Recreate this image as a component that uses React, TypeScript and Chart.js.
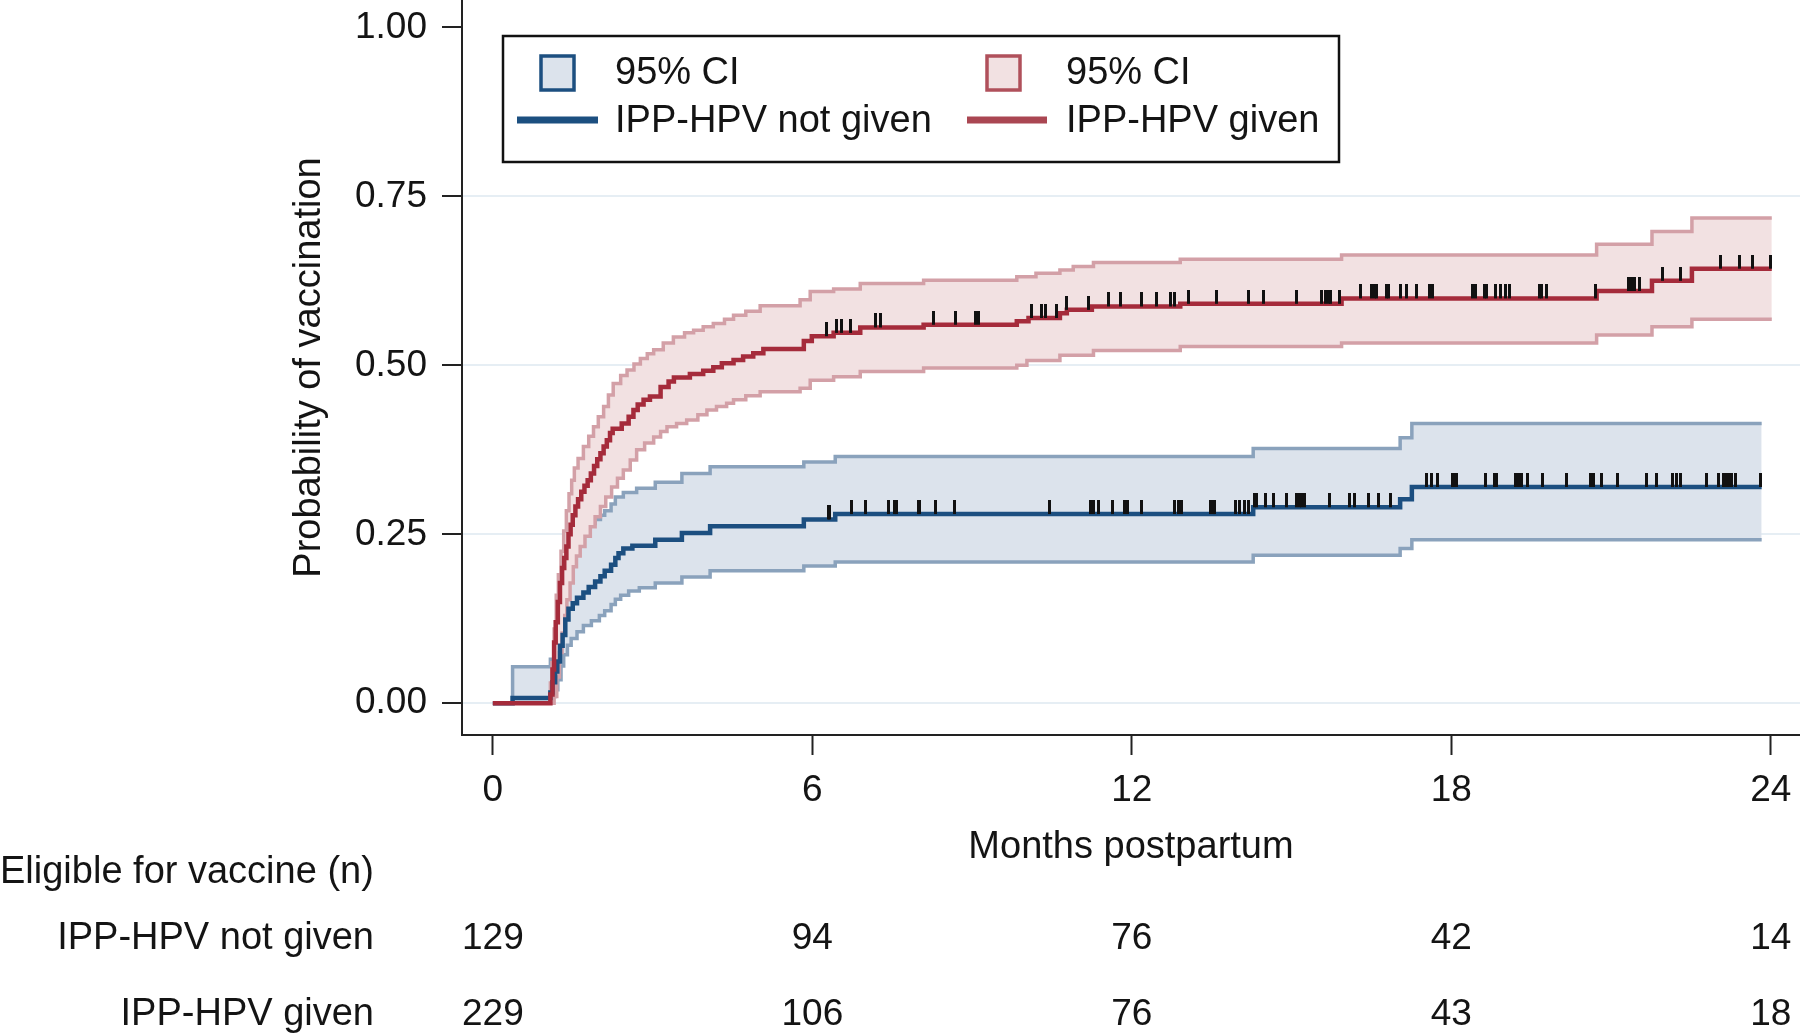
import React, { useEffect, useRef } from 'react';
import { Chart, registerables } from 'chart.js';

Chart.register(...registerables);

// ---- Data ----
const xTickValues = [0, 6, 12, 18, 24];
const yTickValues = [0, 0.25, 0.5, 0.75, 1];

// IPP-HPV not given (blue)
const notGivenEstT = [0, 0.37, 1.08, 1.12, 1.17, 1.21, 1.26, 1.31, 1.36, 1.42, 1.5, 1.58, 1.7, 1.8, 1.92, 2.02, 2.1, 2.22, 2.3, 2.36, 2.45, 2.62, 3.05, 3.55, 4.08, 5.84, 6.43, 14.28, 17.04, 17.26, 23.83];
const notGivenEstV = [0, 0.008, 0.016, 0.031, 0.047, 0.062, 0.085, 0.101, 0.124, 0.14, 0.148, 0.156, 0.164, 0.172, 0.18, 0.188, 0.196, 0.205, 0.215, 0.222, 0.229, 0.233, 0.242, 0.252, 0.262, 0.272, 0.28, 0.29, 0.302, 0.32, 0.32];
const notGivenLoT = [0, 1.12, 1.17, 1.22, 1.28, 1.33, 1.4, 1.47, 1.58, 1.7, 1.85, 2.0, 2.1, 2.22, 2.3, 2.4, 2.55, 2.75, 3.05, 3.55, 4.08, 5.84, 6.43, 14.28, 17.04, 17.26, 23.83];
const notGivenLoV = [0, 0.01, 0.02, 0.035, 0.055, 0.072, 0.086, 0.096, 0.106, 0.115, 0.122, 0.13, 0.137, 0.146, 0.154, 0.16, 0.166, 0.171, 0.178, 0.187, 0.196, 0.203, 0.209, 0.219, 0.229, 0.242, 0.242];
const notGivenHiT = [0, 0.37, 1.08, 1.15, 1.2, 1.26, 1.31, 1.36, 1.42, 1.5, 1.6, 1.7, 1.8, 1.92, 2.02, 2.1, 2.22, 2.3, 2.45, 2.7, 3.05, 3.55, 4.08, 5.84, 6.43, 14.28, 17.04, 17.26, 23.83];
const notGivenHiV = [0, 0.054, 0.065, 0.085, 0.12, 0.16, 0.19, 0.215, 0.235, 0.25, 0.256, 0.26, 0.266, 0.272, 0.278, 0.285, 0.295, 0.305, 0.312, 0.318, 0.327, 0.34, 0.35, 0.357, 0.365, 0.377, 0.393, 0.414, 0.414];
const notGivenCensored = [6.3, 6.33, 6.74, 6.99, 7.43, 7.54, 7.59, 7.99, 8.02, 8.32, 8.67, 10.45, 11.22, 11.28, 11.37, 11.64, 11.87, 11.92, 12.19, 12.81, 12.88, 12.94, 13.47, 13.53, 13.56, 13.94, 14.03, 14.11, 14.19, 14.3, 14.35, 14.52, 14.66, 14.9, 15.1, 15.15, 15.19, 15.24, 15.72, 16.09, 16.19, 16.44, 16.63, 16.85, 17.54, 17.62, 17.75, 18.02, 18.06, 18.1, 18.65, 18.82, 18.85, 19.2, 19.26, 19.32, 19.43, 19.72, 20.16, 20.61, 20.68, 20.83, 21.12, 21.66, 21.86, 22.16, 22.23, 22.31, 22.8, 23.02, 23.11, 23.17, 23.22, 23.27, 23.33, 23.8];

// IPP-HPV given (red)
const givenEstT = [0, 1.08, 1.12, 1.15, 1.18, 1.22, 1.26, 1.3, 1.34, 1.38, 1.42, 1.46, 1.5, 1.55, 1.6, 1.66, 1.72, 1.78, 1.84, 1.9, 1.96, 2.02, 2.08, 2.14, 2.2, 2.25, 2.42, 2.55, 2.64, 2.72, 2.83, 2.95, 3.15, 3.3, 3.4, 3.7, 3.95, 4.14, 4.3, 4.52, 4.7, 4.89, 5.08, 5.84, 5.99, 6.4, 6.9, 8.09, 9.84, 10.06, 10.65, 10.78, 11.25, 12.91, 15.94, 20.73, 21.77, 22.52, 24.02];
const givenEstV = [0, 0.013, 0.05, 0.09, 0.12, 0.15, 0.178, 0.2, 0.215, 0.232, 0.25, 0.264, 0.278, 0.291, 0.302, 0.313, 0.322, 0.33, 0.34, 0.351, 0.361, 0.37, 0.38, 0.389, 0.4, 0.406, 0.414, 0.424, 0.434, 0.442, 0.449, 0.454, 0.468, 0.476, 0.482, 0.487, 0.492, 0.497, 0.503, 0.508, 0.513, 0.518, 0.524, 0.536, 0.543, 0.548, 0.556, 0.56, 0.565, 0.57, 0.577, 0.582, 0.587, 0.591, 0.599, 0.61, 0.625, 0.643, 0.643];
const givenHiT = [0, 1.08, 1.11, 1.15, 1.19, 1.23, 1.28, 1.33, 1.38, 1.43, 1.48, 1.53, 1.6, 1.7, 1.8, 1.89, 1.98, 2.08, 2.17, 2.26, 2.4, 2.52, 2.65, 2.77, 2.9, 3.02, 3.2, 3.39, 3.6, 3.77, 3.95, 4.14, 4.35, 4.52, 4.75, 5.02, 5.77, 5.96, 6.4, 6.9, 8.09, 9.84, 10.2, 10.65, 10.9, 11.28, 12.91, 15.94, 20.73, 21.77, 22.52, 24.02];
const givenHiV = [0, 0.03, 0.06, 0.11, 0.16, 0.19, 0.225, 0.255, 0.285, 0.31, 0.33, 0.348, 0.362, 0.38, 0.395, 0.409, 0.424, 0.439, 0.456, 0.473, 0.485, 0.493, 0.502, 0.51, 0.517, 0.523, 0.533, 0.542, 0.548, 0.552, 0.557, 0.562, 0.568, 0.574, 0.58, 0.588, 0.597, 0.609, 0.613, 0.621, 0.626, 0.631, 0.636, 0.641, 0.646, 0.652, 0.657, 0.663, 0.679, 0.698, 0.718, 0.718];
const givenLoT = [0, 1.15, 1.2, 1.25, 1.3, 1.35, 1.39, 1.45, 1.51, 1.57, 1.64, 1.73, 1.83, 1.92, 2.02, 2.12, 2.23, 2.34, 2.45, 2.58, 2.7, 2.85, 3.02, 3.15, 3.27, 3.45, 3.64, 3.85, 4.02, 4.2, 4.39, 4.52, 4.75, 5.02, 5.77, 5.96, 6.4, 6.9, 8.09, 9.84, 10.03, 10.65, 11.28, 12.91, 15.94, 20.73, 21.77, 22.52, 24.02];
const givenLoV = [0, 0.01, 0.039, 0.075, 0.104, 0.13, 0.153, 0.178, 0.202, 0.218, 0.232, 0.247, 0.261, 0.276, 0.291, 0.305, 0.32, 0.333, 0.345, 0.36, 0.375, 0.385, 0.394, 0.402, 0.409, 0.414, 0.419, 0.427, 0.434, 0.439, 0.444, 0.449, 0.455, 0.461, 0.466, 0.478, 0.483, 0.491, 0.496, 0.5, 0.507, 0.515, 0.522, 0.528, 0.533, 0.545, 0.557, 0.568, 0.568];
const givenCensored = [6.26, 6.46, 6.55, 6.71, 7.18, 7.28, 8.28, 8.68, 9.06, 9.12, 10.12, 10.31, 10.37, 10.59, 10.78, 11.19, 11.56, 11.78, 12.19, 12.46, 12.73, 12.81, 13.06, 13.6, 14.19, 14.48, 15.09, 15.57, 15.63, 15.69, 15.74, 15.91, 16.29, 16.51, 16.55, 16.6, 16.78, 16.82, 17.04, 17.15, 17.35, 17.59, 17.65, 18.4, 18.45, 18.62, 18.67, 18.84, 18.92, 19.01, 19.1, 19.65, 19.7, 19.79, 20.7, 21.33, 21.39, 21.45, 21.53, 21.97, 22.3, 23.06, 23.42, 23.66, 24.0];

// Risk table
const riskTimes = [0, 6, 12, 18, 24];
const notGivenAtRisk = [129, 94, 76, 42, 14];
const givenAtRisk = [229, 106, 76, 43, 18];
const groupLabels = ['IPP-HPV not given', 'IPP-HPV given'];
const tableTitle = 'Eligible for vaccine (n)';
const legendLabels = ['95% CI', 'IPP-HPV not given', '95% CI', 'IPP-HPV given'];
const xTitle = 'Months postpartum';
const yTitle = 'Probability of vaccination';

// ---- Styles ----
const FONT = '"Liberation Sans", Arial, Helvetica, sans-serif';
const TEXT = '#141414';
const BLUE = '#1c4f80';
const BLUE_CI_LINE = '#8aa2bc';
const BLUE_FILL = '#dce3ec';
const RED = '#a52b3b';
const RED_CI_LINE = '#d3a0a7';
const RED_FILL = '#f2e1e2';

function toPoints(T: number[], V: number[]) {
  const n = Math.min(T.length, V.length);
  const out: { x: number; y: number }[] = [];
  for (let i = 0; i < n; i++) out.push({ x: T[i], y: V[i] });
  return out;
}

function stepValueAt(T: number[], V: number[], t: number) {
  let v = V[0];
  for (let i = 0; i < T.length; i++) {
    if (T[i] <= t) v = V[i];
    else break;
  }
  return v;
}

export default function App() {
  const ref = useRef<HTMLCanvasElement>(null);

  useEffect(() => {
    const canvas = ref.current;
    if (!canvas) return;

    const mark = document.createElement('canvas');
    mark.width = 3;
    mark.height = 28;
    const mctx = mark.getContext('2d');
    if (mctx) {
      mctx.fillStyle = '#111';
      mctx.fillRect(0, 0, 3, 14);
    }

    const overlay = {
      id: 'overlay',
      afterDraw(chart: any) {
        const ctx = chart.ctx as CanvasRenderingContext2D;
        const xs = chart.scales.x;
        ctx.save();
        ctx.fillStyle = TEXT;
        ctx.textBaseline = 'alphabetic';
        // risk table
        ctx.font = `38px ${FONT}`;
        ctx.textAlign = 'left';
        ctx.fillText(tableTitle, 0, 883);
        ctx.textAlign = 'right';
        ctx.fillText(groupLabels[0], 374, 949);
        ctx.fillText(groupLabels[1], 374, 1025);
        ctx.font = `37px ${FONT}`;
        ctx.textAlign = 'center';
        riskTimes.forEach((t, i) => {
          const x = xs.getPixelForValue(t);
          ctx.fillText(String(notGivenAtRisk[i]), x, 949);
          ctx.fillText(String(givenAtRisk[i]), x, 1025);
        });

        // legend
        ctx.fillStyle = '#ffffff';
        ctx.fillRect(503, 36, 836, 126);
        ctx.lineWidth = 2.5;
        ctx.strokeStyle = '#111';
        ctx.strokeRect(503, 36, 836, 126);

        ctx.lineWidth = 3.5;
        ctx.fillStyle = BLUE_FILL;
        ctx.fillRect(541, 56, 33, 34);
        ctx.strokeStyle = BLUE;
        ctx.strokeRect(541, 56, 33, 34);
        ctx.fillStyle = RED_FILL;
        ctx.fillRect(987, 56, 33, 34);
        ctx.strokeStyle = '#b0505b';
        ctx.strokeRect(987, 56, 33, 34);

        ctx.lineWidth = 7;
        ctx.lineCap = 'butt';
        ctx.strokeStyle = BLUE;
        ctx.beginPath();
        ctx.moveTo(517, 120);
        ctx.lineTo(598, 120);
        ctx.stroke();
        ctx.strokeStyle = '#aa4652';
        ctx.beginPath();
        ctx.moveTo(967, 120);
        ctx.lineTo(1047, 120);
        ctx.stroke();

        ctx.fillStyle = TEXT;
        ctx.font = `38px ${FONT}`;
        ctx.textAlign = 'left';
        ctx.fillText(legendLabels[0], 615, 84);
        ctx.fillText(legendLabels[1], 615, 132);
        ctx.fillText(legendLabels[2], 1066, 84);
        ctx.fillText(legendLabels[3], 1066, 132);
        ctx.restore();
      },
    };

    const notGivenCens = notGivenCensored.map((t) => ({ x: t, y: stepValueAt(notGivenEstT, notGivenEstV, t) }));
    const givenCens = givenCensored.map((t) => ({ x: t, y: stepValueAt(givenEstT, givenEstV, t) }));

    const lineBase = { pointRadius: 0, stepped: true as const, tension: 0 };

    const chart = new Chart(canvas, {
      type: 'line',
      data: {
        datasets: [
          { ...lineBase, label: 'notGivenHi', data: toPoints(notGivenHiT, notGivenHiV), borderColor: BLUE_CI_LINE, borderWidth: 3.5, backgroundColor: BLUE_FILL, fill: '+1', order: 8 },
          { ...lineBase, label: 'notGivenLo', data: toPoints(notGivenLoT, notGivenLoV), borderColor: BLUE_CI_LINE, borderWidth: 3.5, fill: false, order: 7 },
          { ...lineBase, label: 'givenHi', data: toPoints(givenHiT, givenHiV), borderColor: RED_CI_LINE, borderWidth: 3.5, backgroundColor: RED_FILL, fill: '+1', order: 6 },
          { ...lineBase, label: 'givenLo', data: toPoints(givenLoT, givenLoV), borderColor: RED_CI_LINE, borderWidth: 3.5, fill: false, order: 5 },
          { ...lineBase, label: 'IPP-HPV not given', data: toPoints(notGivenEstT, notGivenEstV), borderColor: BLUE, borderWidth: 4.5, fill: false, order: 4 },
          { ...lineBase, label: 'IPP-HPV given', data: toPoints(givenEstT, givenEstV), borderColor: RED, borderWidth: 4.5, fill: false, order: 3 },
          { type: 'scatter' as any, label: 'cens1', data: notGivenCens, pointStyle: mark as any, pointRadius: 6, showLine: false, order: 2 } as any,
          { type: 'scatter' as any, label: 'cens2', data: givenCens, pointStyle: mark as any, pointRadius: 6, showLine: false, order: 1 } as any,
        ],
      },
      options: {
        responsive: false,
        animation: false,
        devicePixelRatio: 1,
        layout: { padding: 0, autoPadding: false },
        plugins: { legend: { display: false }, tooltip: { enabled: false } },
        scales: {
          x: {
            type: 'linear',
            min: -0.58,
            max: 24.55,
            afterBuildTicks: (s: any) => {
              s.ticks = xTickValues.map((v) => ({ value: v }));
            },
            afterFit: (s: any) => {
              s.height = 301;
              s.paddingLeft = 0;
              s.paddingRight = 0;
              s.paddingTop = 0;
              s.paddingBottom = 0;
            },
            ticks: {
              font: { family: FONT, size: 37 },
              color: TEXT,
              padding: 14,
              maxRotation: 0,
              autoSkip: false,
              callback: (v: any) => String(v),
            },
            grid: { drawOnChartArea: false, drawTicks: true, tickLength: 20, tickColor: '#222', tickWidth: 2 },
            border: { display: true, color: '#222', width: 2 },
            title: {
              display: true,
              text: xTitle,
              color: TEXT,
              font: { family: FONT, size: 38, lineHeight: 1 },
              padding: { top: 0, bottom: 169 },
            },
          },
          y: {
            type: 'linear',
            min: -0.0469,
            max: 1.0404,
            afterBuildTicks: (s: any) => {
              s.ticks = yTickValues.map((v) => ({ value: v }));
            },
            afterFit: (s: any) => {
              s.width = 462;
              s.paddingLeft = 0;
              s.paddingRight = 0;
              s.paddingTop = 0;
              s.paddingBottom = 0;
            },
            ticks: {
              font: { family: FONT, size: 37 },
              color: TEXT,
              padding: 15,
              autoSkip: false,
              callback: (v: any) => Number(v).toFixed(2),
            },
            grid: {
              drawOnChartArea: true,
              color: (c: any) => (c.tick && c.tick.value === 1 ? 'rgba(0,0,0,0)' : '#e6eef4'),
              lineWidth: 2,
              drawTicks: true,
              tickLength: 20,
              tickColor: '#222',
              tickWidth: 2,
            },
            border: { display: true, color: '#222', width: 2 },
            title: {
              display: true,
              text: yTitle,
              color: TEXT,
              font: { family: FONT, size: 38, lineHeight: 1 },
              padding: { top: 291, bottom: 0 },
            },
          },
        },
      },
      plugins: [overlay],
    } as any);

    return () => chart.destroy();
  }, []);

  return (
    <div style={{ position: 'absolute', left: 0, top: 0, width: 1800, height: 1036, background: '#ffffff' }}>
      <canvas ref={ref} width={1800} height={1036} style={{ width: 1800, height: 1036, display: 'block' }} />
    </div>
  );
}
